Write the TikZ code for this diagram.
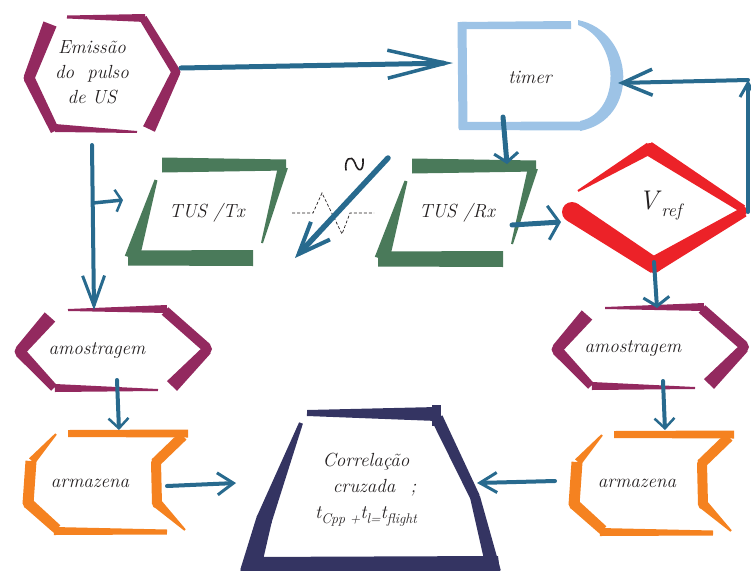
\documentclass[tikz,border=0pt]{standalone}
\usepackage{fontspec}
\newfontfamily\lblfont{DejaVu Serif}
\usetikzlibrary{calc,arrows.meta}
\definecolor{plum}{HTML}{93295F}
\definecolor{leaf}{HTML}{4A7A5A}
\definecolor{sky}{HTML}{9DC3E6}
\definecolor{redv}{HTML}{EC2228}
\definecolor{orng}{HTML}{F58220}
\definecolor{navyc}{HTML}{343462}
\definecolor{linkc}{HTML}{286A8E}
\definecolor{ink}{HTML}{231F20}
% tapered brush stroke: colour, A, B, half width at A, half width at B
\newcommand\bs[5]{\fill[#1] ($#2!#4pt!90:#3$) -- ($#3!#5pt!-90:#2$) -- ($#3!#5pt!90:#2$) -- ($#2!#4pt!-90:#3$) -- cycle;}
\newcommand\amosshape{%
  \bs{plum}{(68,310)}{(167,309)}{1}{4}
  \bs{plum}{(165,311)}{(207,348)}{5}{5}
  \bs{plum}{(207,350)}{(172,386)}{5}{7}
  \bs{plum}{(55,388)}{(158,390)}{4}{1}
  \bs{plum}{(20,352)}{(54,388)}{5.5}{4}
  \bs{plum}{(20,351)}{(50,317)}{5.5}{7}
  \fill[plum] (207,349) circle (5) (20,351.5) circle (5.5);}
\newcommand\armshape{%
  \bs{orng}{(68,433.5)}{(188,433.5)}{3.5}{4}
  \bs{orng}{(56,434)}{(32,461)}{1}{4}
  \bs{orng}{(31,461)}{(28,504)}{5.5}{5.5}
  \bs{orng}{(28,503)}{(57,529)}{5.5}{5}
  \bs{orng}{(54,531)}{(167,532)}{4}{2.5}
  \bs{orng}{(183,436)}{(155,463)}{5}{5}
  \bs{orng}{(156,462)}{(157,504)}{5}{5}
  \bs{orng}{(157,503)}{(185,530)}{5}{1}
  \fill[orng] (28,503.5) circle (5.3) (156,462.5) circle (5) (157,503.5) circle (5);}
\newcommand\tusshape{%
  \bs{leaf}{(162,165)}{(286,165)}{7.5}{5.5}
  \bs{leaf}{(283,167)}{(262,243)}{5}{1}
  \bs{leaf}{(156,180)}{(132,258)}{1.5}{7.5}
  \bs{leaf}{(128,258)}{(253,258)}{7.5}{8}}
\newcommand\sbs[1]{\raisebox{-5pt}{\fontsize{14}{16}\selectfont #1}}
\tikzset{
  lbl/.style={font=\rmfamily\fontsize{19}{25}\selectfont\itshape, text=ink, align=center, inner sep=0pt},
  conn/.style={draw=linkc, line width=4pt, line cap=round},
  zigzag/.style={draw=ink, line width=0.7pt, dash pattern=on 3pt off 2pt}
}
\begin{document}
\begin{tikzpicture}[x=1pt,y=-1pt]
\useasboundingbox (0,0) rectangle (751,570);
\begin{scope}
\clip (0,0) rectangle (751,570);
% Emissao hexagon
\bs{plum}{(50,24)}{(29,78)}{7}{5.5}
\bs{plum}{(29,78)}{(55,131)}{5.5}{4.5}
\bs{plum}{(55,128)}{(137,132)}{4}{1}
\bs{plum}{(149,129)}{(176,72)}{6.5}{4.5}
\bs{plum}{(176,72)}{(143,18)}{4.5}{4}
\bs{plum}{(67,17)}{(145,18)}{1.5}{4}
\fill[plum] (29,78) circle (5.5) (176,72) circle (4.5);
% amostragem shapes
\amosshape
\begin{scope}[shift={(537,-2)}]\amosshape\end{scope}
% armazena shapes
\armshape
\begin{scope}[shift={(546,1)}]\armshape\end{scope}
% TUS shapes
\tusshape
\begin{scope}[shift={(250,1)}]\tusshape\end{scope}
% timer
\bs{sky}{(462,22)}{(463,129)}{4.5}{4.5}
\bs{sky}{(460,25.5)}{(571,25)}{3.5}{4}
\bs{sky}{(459,126)}{(582,126)}{4}{4.5}
\fill[sky] (578,20) .. controls (636,32) and (640,120) .. (580,131) -- (580,121) .. controls (622,112) and (620,40) .. (578,25) -- cycle;
% Vref diamond
\bs{redv}{(578,191)}{(650,148)}{1}{6}
\bs{redv}{(648,148)}{(743,209)}{7}{4}
\bs{redv}{(744,212)}{(655,264)}{5}{8}
\bs{redv}{(572,212)}{(655,266)}{10}{8}
\fill[redv] (572,212) circle (10) (743,211) circle (4.5) (654,265) circle (8) (650,149) circle (6);
% Correlacao shape
\bs{navyc}{(307,413)}{(437,414)}{3}{7}
\fill[navyc] (432,405) rectangle (441,426);
\bs{navyc}{(437,418)}{(475,497)}{6}{5}
\bs{navyc}{(475,497)}{(494,572)}{5}{7}
\bs{navyc}{(301,423)}{(264,520)}{2}{8}
\bs{navyc}{(264,520)}{(250,572)}{8}{10}
\fill[navyc] (475,497) circle (5) (264,520) circle (8);
\fill[navyc] (245,557) -- (498,556) -- (500,572) -- (240,572) -- cycle;
\end{scope}
% texts
\node[lbl] (em) at (92,72) {Emissão\\do\ \ pulso\\de US};
\node[lbl] (tm) at (530,77) {timer};
\node[lbl] (tx) at (207,213) {TUS /Tx};
\node[lbl] (rx) at (457,213) {TUS /Rx};
\node[lbl] (vr) at (660,206) {{\fontsize{27}{30}\selectfont V}\,\raisebox{-7pt}{\fontsize{18}{20}\selectfont ref}};
\node[lbl] (am1) at (97,350) {amostragem};
\node[lbl] (am2) at (633,348) {amostragem};
\node[lbl] (ar1) at (90,483) {armazena};
\node[lbl] (ar2) at (637,483) {armazena};
\node[lbl, font=\rmfamily\fontsize{19}{26}\selectfont\itshape] (co) at (366,490) {Correlação\\\hspace{0.9em}cruzada\hspace{0.8em};\\t\sbs{Cpp +}t\sbs{l=}t\sbs{flight}};
% connector end points
\coordinate (emR) at (181,68);
\coordinate (tmL) at (453,63);
\coordinate (emB) at (92,145);
\coordinate (amT) at (94,310);
\coordinate (brS) at (93,203);
\coordinate (txL) at (123,200);
\coordinate (tmB) at (503,117);
\coordinate (rxT) at (507,164);
\coordinate (waveS) at (388,158);
\coordinate (txR) at (295,258);
\coordinate (rxR) at (512,225);
\coordinate (vrL) at (561,222);
\coordinate (vrR) at (748,212);
\coordinate (corner) at (748,80);
\coordinate (tmR) at (618,83);
\coordinate (vrB) at (654,262);
\coordinate (am2T) at (657,308);
\coordinate (am1B) at (117,380);
\coordinate (ar1T) at (119,430);
\coordinate (am2B) at (663,381);
\coordinate (ar2T) at (665,430);
\coordinate (ar1R) at (167,486);
\coordinate (coL) at (236,483);
\coordinate (ar2L) at (555,481);
\coordinate (coR) at (477,483);
\coordinate (zzL) at (292,213);
\coordinate (zzR) at (374,213);
% dashed zigzag and wave symbol
\draw[zigzag] (zzL) -- (313,213) -- (322,193) -- (342,234) -- (350,213) -- (zzR);
\draw[ink, line width=1.6pt, line cap=round] (346,170) .. controls (344,160) and (351,153) .. (355,163) .. controls (358,173) and (364,172) .. (363,159);
% connectors
\draw[conn, line width=5pt, -{Straight Barb[length=58pt,width=28pt,line width=3.5pt]}] (emR) -- (tmL);
\draw[conn, -{Straight Barb[length=30pt,width=22pt,line width=3pt]}] (emB) -- (amT);
\draw[conn, line width=3.5pt, -{Straight Barb[length=6pt,width=22pt,line width=2.5pt]}] (brS) -- (txL);
\draw[conn, line width=5pt, -{Straight Barb[length=9pt,width=24pt,line width=3pt]}] (tmB) -- (rxT);
\draw[conn, line width=5.5pt, -{Straight Barb[length=32pt,width=26pt,line width=4pt]}] (waveS) -- (txR);
\draw[conn, line width=5pt, -{Straight Barb[length=11pt,width=34pt,line width=3pt]}] (rxR) -- (vrL);
\draw[conn, -{Straight Barb[length=14pt,width=16pt,line width=3pt]}] (vrR) -- (corner);
\draw[conn, -{Straight Barb[length=30pt,width=26pt,line width=3.5pt]}] (corner) -- (tmR);
\draw[conn, -{Straight Barb[length=9pt,width=26pt,line width=3pt]}] (vrB) -- (am2T);
\draw[conn, -{Straight Barb[length=10pt,width=20pt,line width=2.5pt]}] (am1B) -- (ar1T);
\draw[conn, -{Straight Barb[length=10pt,width=20pt,line width=2.5pt]}] (am2B) -- (ar2T);
\draw[conn, -{Straight Barb[length=16pt,width=22pt,line width=3pt]}] (ar1R) -- (coL);
\draw[conn, -{Straight Barb[length=17pt,width=20pt,line width=3pt]}] (ar2L) -- (coR);
\end{tikzpicture}
\end{document}
